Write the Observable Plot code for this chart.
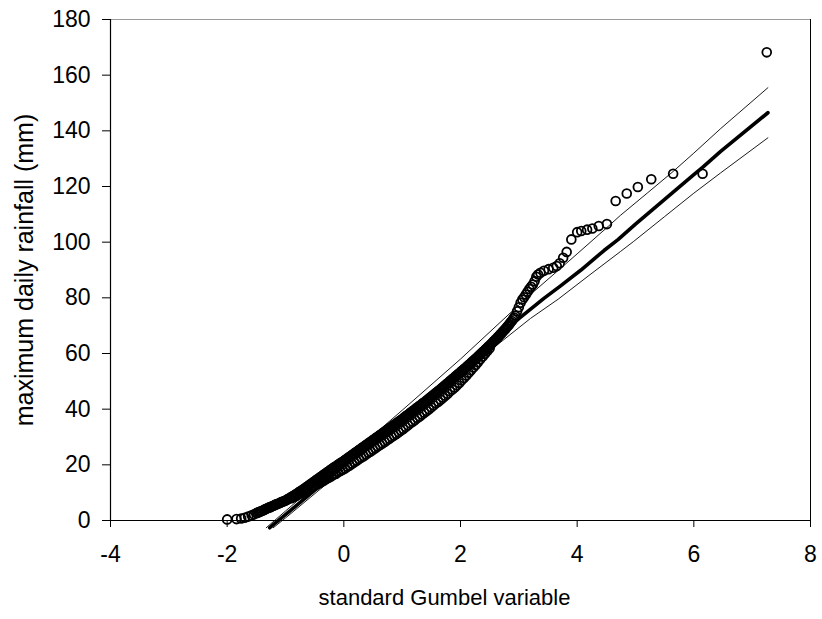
<!DOCTYPE html>
<html>
<head>
<meta charset="utf-8">
<script src="https://cdn.jsdelivr.net/npm/d3@7"></script>
<script src="https://cdn.jsdelivr.net/npm/@observablehq/plot@0.6"></script>
<style>
  html, body { margin: 0; padding: 0; background: #fff; }
  #chart svg { display: block; }
</style>
</head>
<body>
<div id="chart"></div>
<script>
// Observed maxima on the Gumbel reduced-variate axis (upper chain of the dense band and the tails)
const gumbelX = [
  -2.0, -1.84, -1.76, -1.7, -1.64, -1.58, -1.54,
  -1.5, -1.48, -1.46, -1.44, -1.42,
  -1.4, -1.38, -1.36, -1.34, -1.32,
  -1.3, -1.28, -1.26, -1.24, -1.22,
  -1.2, -1.18, -1.16, -1.14, -1.12,
  -1.1, -1.08, -1.06, -1.04, -1.02,
  -1.0, -0.98, -0.96, -0.94, -0.92,
  -0.9, -0.88, -0.86, -0.84, -0.82,
  -0.8, -0.78, -0.76, -0.74, -0.72,
  -0.7, -0.68, -0.66, -0.64, -0.62,
  -0.6, -0.58, -0.56, -0.54, -0.52,
  -0.5, -0.48, -0.46, -0.44, -0.42,
  -0.4, -0.38, -0.36, -0.34, -0.32,
  -0.3, -0.28, -0.26, -0.24, -0.22,
  -0.2, -0.18, -0.16, -0.14, -0.12,
  -0.1, -0.08, -0.06, -0.04, -0.02,
  0.0, 0.02, 0.04, 0.06, 0.08,
  0.1, 0.12, 0.14, 0.16, 0.18,
  0.2, 0.22, 0.24, 0.26, 0.28,
  0.3, 0.32, 0.34, 0.36, 0.38,
  0.4, 0.42, 0.44, 0.46, 0.48,
  0.5, 0.52, 0.54, 0.56, 0.58,
  0.6, 0.62, 0.64, 0.66, 0.68,
  0.7, 0.72, 0.74, 0.76, 0.78,
  0.8, 0.82, 0.84, 0.86, 0.88,
  0.9, 0.92, 0.94, 0.96, 0.98,
  1.0, 1.02, 1.04, 1.06, 1.08,
  1.1, 1.12, 1.14, 1.16, 1.18,
  1.2, 1.22, 1.24, 1.26, 1.28,
  1.3, 1.32, 1.34, 1.36, 1.38,
  1.4, 1.42, 1.44, 1.46, 1.48,
  1.5, 1.52, 1.54, 1.56, 1.58,
  1.6, 1.62, 1.64, 1.66, 1.68,
  1.7, 1.72, 1.74, 1.76, 1.78,
  1.8, 1.82, 1.84, 1.86, 1.88,
  1.9, 1.92, 1.94, 1.96, 1.98,
  2.0, 2.02, 2.04, 2.06, 2.08,
  2.1, 2.12, 2.14, 2.16, 2.18,
  2.2, 2.22, 2.24, 2.26, 2.28,
  2.3, 2.32, 2.34, 2.36, 2.38,
  2.4, 2.42, 2.44, 2.46, 2.48,
  2.5, 2.52, 2.54, 2.56, 2.58,
  2.6, 2.62, 2.64, 2.66, 2.68,
  2.7, 2.72, 2.74, 2.76, 2.78,
  2.8, 2.82, 2.84, 2.86, 2.88,
  2.9, 2.92, 2.94,
  2.97, 3.0, 3.03, 3.06, 3.09, 3.12, 3.15, 3.18, 3.21, 3.24,
  3.27, 3.3, 3.33, 3.37, 3.43, 3.51, 3.59, 3.65, 3.7, 3.76,
  3.82, 3.9, 4.0, 4.07, 4.17, 4.26, 4.37, 4.51, 4.66, 4.85,
  5.04, 5.27, 5.645, 6.15, 7.25
];
const rainfall = [
  0.4, 0.5, 0.7, 1.0, 1.4, 1.9, 2.2,
  2.6, 2.8, 3.0, 3.1, 3.3,
  3.5, 3.7, 3.9, 4.1, 4.3,
  4.5, 4.7, 4.8, 5.0, 5.2,
  5.4, 5.6, 5.8, 5.9, 6.1,
  6.3, 6.5, 6.7, 6.8, 7.0,
  7.2, 7.4, 7.7, 7.9, 8.2,
  8.4, 8.7, 8.9, 9.2, 9.4,
  9.7, 10.0, 10.3, 10.6, 10.8,
  11.1, 11.4, 11.7, 12.0, 12.3,
  12.6, 12.9, 13.2, 13.5, 13.8,
  14.1, 14.4, 14.7, 15.0, 15.3,
  15.6, 15.9, 16.2, 16.5, 16.8,
  17.1, 17.4, 17.7, 18.0, 18.3,
  18.6, 18.9, 19.2, 19.4, 19.7,
  20.0, 20.3, 20.6, 20.8, 21.1,
  21.4, 21.7, 22.0, 22.3, 22.6,
  22.9, 23.2, 23.5, 23.8, 24.1,
  24.4, 24.7, 25.0, 25.3, 25.6,
  25.9, 26.2, 26.5, 26.8, 27.1,
  27.4, 27.7, 28.0, 28.3, 28.6,
  28.9, 29.2, 29.5, 29.8, 30.1,
  30.4, 30.7, 31.0, 31.3, 31.6,
  31.9, 32.2, 32.5, 32.8, 33.1,
  33.4, 33.7, 34.0, 34.3, 34.6,
  34.9, 35.2, 35.5, 35.8, 36.1,
  36.4, 36.7, 37.1, 37.4, 37.7,
  38.0, 38.3, 38.7, 39.0, 39.3,
  39.6, 39.9, 40.3, 40.6, 40.9,
  41.2, 41.5, 41.9, 42.2, 42.5,
  42.8, 43.1, 43.5, 43.8, 44.2,
  44.5, 44.8, 45.2, 45.5, 45.9,
  46.2, 46.5, 46.9, 47.2, 47.6,
  47.9, 48.3, 48.6, 49.0, 49.3,
  49.7, 50.1, 50.4, 50.8, 51.1,
  51.5, 51.9, 52.2, 52.6, 52.9,
  53.3, 53.7, 54.0, 54.4, 54.7,
  55.1, 55.5, 55.9, 56.2, 56.6,
  57.0, 57.4, 57.8, 58.1, 58.5,
  58.9, 59.3, 59.7, 60.1, 60.5,
  60.9, 61.3, 61.7, 62.1, 62.5,
  62.9, 63.3, 63.7, 64.2, 64.6,
  65.0, 65.4, 65.9, 66.3, 66.8,
  67.2, 67.7, 68.2, 68.6, 69.1,
  69.6, 70.1, 70.6, 71.2, 71.7,
  72.3, 72.9, 73.6,
  75.2, 76.6, 78.2, 79.4, 80.2, 81.2, 82.2, 83.2, 84.0, 84.8,
  86.0, 87.6, 88.4, 89.0, 89.7, 90.3, 90.8, 91.4, 92.4, 94.4,
  96.5, 101.0, 103.6, 104.0, 104.5, 104.9, 105.8, 106.5, 114.8, 117.5,
  119.8, 122.6, 124.6, 124.6, 168.2
];

// Lower chain of observed points that thickens the dense band (read from its lower edge)
const bandX = [
  -0.9, -0.86, -0.82, -0.78, -0.74, -0.7, -0.66, -0.62, -0.58, -0.54,
  -0.5, -0.46, -0.42, -0.38, -0.34, -0.3, -0.26, -0.22, -0.18, -0.14,
  -0.1, -0.06, -0.02, 0.02, 0.06, 0.1, 0.14, 0.18, 0.22, 0.26,
  0.3, 0.34, 0.38, 0.42, 0.46, 0.5, 0.54, 0.58, 0.62, 0.66,
  0.7, 0.74, 0.78, 0.82, 0.86, 0.9, 0.94, 0.98, 1.02, 1.06,
  1.1, 1.14, 1.18, 1.22, 1.26, 1.3, 1.34, 1.38, 1.42, 1.46,
  1.5, 1.54, 1.58, 1.62, 1.66, 1.7, 1.74, 1.78, 1.82, 1.86,
  1.9, 1.94, 1.98, 2.02, 2.06, 2.1, 2.14, 2.18, 2.22, 2.26,
  2.3, 2.34, 2.38, 2.42, 2.46, 2.5
];
const bandY = [
  8.0, 8.4, 8.8, 9.3, 9.7, 10.1, 10.6, 11.1, 11.5, 12.0,
  12.5, 13.0, 13.4, 13.9, 14.4, 14.9, 15.4, 15.8, 16.4, 16.7,
  17.3, 17.8, 18.2, 18.7, 19.3, 19.8, 20.4, 20.9, 21.5, 22.1,
  22.6, 23.1, 23.7, 24.3, 24.8, 25.4, 26.0, 26.6, 27.1, 27.7,
  28.2, 28.8, 29.4, 30.0, 30.5, 31.1, 31.7, 32.3, 32.9, 33.6,
  34.2, 34.9, 35.5, 36.1, 36.8, 37.4, 38.1, 38.7, 39.3, 40.0,
  40.7, 41.4, 42.1, 42.7, 43.4, 44.1, 44.8, 45.5, 46.4, 47.1,
  47.8, 48.6, 49.4, 50.4, 51.2, 52.1, 53.1, 54.0, 55.0, 55.9,
  56.9, 57.9, 58.9, 59.9, 60.9, 61.9
];

// Fitted Gumbel quantile line and its confidence limits
const fitX   = [-1.27, -1.0, 0.0, 1.0, 2.0, 3.0, 3.43, 3.71, 4.06, 4.46, 4.7, 5.0, 5.5, 6.0, 6.15, 6.46, 7.27];
const fitY   = [-2.6, 2.1, 19.6, 37.0, 54.5, 72.5, 79.8, 84.2, 89.9, 97.0, 100.9, 106.5, 115.4, 124.3, 126.9, 132.6, 146.5];
const upperX = [-1.33, -1.0, 0.0, 1.0, 2.0, 3.0, 3.26, 3.65, 4.0, 4.54, 4.74, 5.2, 5.645, 6.0, 6.46, 7.27];
const upperY = [-2.6, 3.4, 21.5, 39.6, 58.0, 77.4, 82.3, 89.4, 95.8, 105.8, 109.6, 117.6, 125.4, 132.0, 140.8, 155.5];
const lowerX = [-1.21, -1.0, 0.0, 1.0, 2.0, 2.51, 3.2, 3.68, 4.2, 4.74, 4.97, 5.5, 6.0, 6.46, 7.27];
const lowerY = [-2.6, 0.9, 18.3, 35.2, 52.4, 61.1, 72.6, 79.6, 88.0, 96.6, 100.3, 109.2, 117.6, 124.9, 137.5];

const xTicks = [-4, -2, 0, 2, 4, 6, 8];
const yTicks = [0, 20, 40, 60, 80, 100, 120, 140, 160, 180];

const obs = gumbelX.map((x, i) => ({x, y: rainfall[i]})).concat(bandX.map((x, i) => ({x, y: bandY[i]})));
const fit = fitX.map((x, i) => ({x, y: fitY[i]}));
const upper = upperX.map((x, i) => ({x, y: upperY[i]}));
const lower = lowerX.map((x, i) => ({x, y: lowerY[i]}));

const chart = Plot.plot({
  width: 822,
  height: 619,
  marginLeft: 110,
  marginRight: 12,
  marginTop: 19,
  marginBottom: 99,
  style: {fontFamily: "'Liberation Sans', Arial, sans-serif", background: "#fff", color: "#000"},
  x: {domain: [-4, 8]},
  y: {domain: [0, 180]},
  marks: [
    Plot.frame({stroke: "#9a9a9a", strokeWidth: 1}),
    Plot.ruleX([8], {stroke: "#000", strokeWidth: 1}),
    Plot.dot(obs, {x: "x", y: "y", r: 4.4, stroke: "#000", strokeWidth: 1.8, fill: "none"}),
    Plot.line(upper, {x: "x", y: "y", stroke: "#000", strokeWidth: 0.9}),
    Plot.line(lower, {x: "x", y: "y", stroke: "#000", strokeWidth: 0.9}),
    Plot.line(fit, {x: "x", y: "y", stroke: "#000", strokeWidth: 3.6}),
    Plot.ruleX([-4], {stroke: "#000", strokeWidth: 1.2}),
    Plot.ruleY([0], {stroke: "#000", strokeWidth: 1.2}),
    Plot.axisX({ticks: xTicks, tickFormat: d => String(d), tickSize: 7, tickPadding: 18, fontSize: 23, label: null}),
    Plot.axisY({ticks: yTicks, tickFormat: d => String(d), tickSize: 8, tickPadding: 12, fontSize: 23, label: null}),
    Plot.text(["standard Gumbel variable"], {frameAnchor: "bottom", dy: 84, dx: -16, fontSize: 22}),
    Plot.text(["maximum daily rainfall (mm)"], {frameAnchor: "left", textAnchor: "middle", dx: -86, rotate: -90, fontSize: 25})
  ]
});
document.getElementById("chart").append(chart);
</script>
</body>
</html>
